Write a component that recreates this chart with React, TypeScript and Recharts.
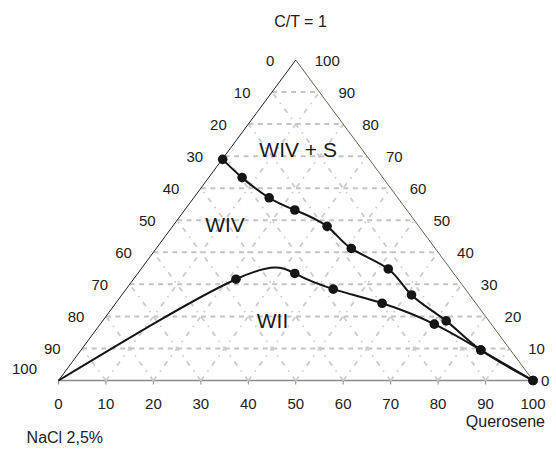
import React from 'react';
import { ScatterChart, Scatter, XAxis, YAxis } from 'recharts';

const FONT = '"Liberation Sans", Arial, Helvetica, sans-serif';

// Bottom axis ticks and side scale labels
const baseTicks = [0, 10, 20, 30, 40, 50, 60, 70, 80, 90, 100];
const sideTicks = [0, 10, 20, 30, 40, 50, 60, 70, 80, 90, 100];
const gridLevels = [10, 20, 30, 40, 50, 60, 70, 80, 90];

// Upper boundary (WIV / WIV + S) – x along base, y = height (0..100)
const upperX = [34.6, 38.7, 44.4, 49.8, 56.6, 61.7, 69.5, 74.4, 81.7, 89.0, 100];
const upperY = [69.0, 63.3, 57.0, 53.2, 48.1, 41.2, 34.8, 26.7, 18.6, 9.5, 0];

// Lower boundary (WIV / WII)
const lowerX = [0, 37.4, 49.8, 57.9, 68.2, 79.2, 89.0, 100];
const lowerY = [0, 31.6, 33.4, 28.5, 24.1, 17.6, 9.5, 0];
const lowerMarked = [false, true, true, true, true, true, true, true];

// Region labels
const regionNames = ['WIV + S', 'WIV', 'WII'];
const regionX = [50.5, 35.1, 45.1];
const regionY = [72.0, 48.8, 18.6];

type P = { x: number; y: number };

const upperData: P[] = upperX.map((x, i) => ({ x, y: upperY[i] }));
const lowerData: P[] = lowerX.map((x, i) => ({ x, y: lowerY[i] }));
const lowerDots: P[] = lowerData.filter((_, i) => lowerMarked[i]);

const horizontalLines: P[][] = gridLevels.map((k) => [
  { x: k / 2, y: k },
  { x: 100 - k / 2, y: k },
]);
const leftParallel: P[][] = gridLevels.map((k) => [
  { x: k, y: 0 },
  { x: k + (100 - k) / 2, y: 100 - k },
]);
const rightParallel: P[][] = gridLevels.map((k) => [
  { x: k, y: 0 },
  { x: k / 2, y: k },
]);
const leftSide: P[] = [
  { x: 0, y: 0 },
  { x: 50, y: 100 },
];
const rightSide: P[] = [
  { x: 50, y: 100 },
  { x: 100, y: 0 },
];

const leftLabelData = sideTicks.map((v) => ({ x: (100 - v) / 2, y: 100 - v, text: String(v) }));
const rightLabelData = sideTicks.map((v) => ({ x: 100 - v / 2, y: v, text: String(v) }));
const regionData = regionNames.map((t, i) => ({ x: regionX[i], y: regionY[i], text: t }));

const Empty = () => <g />;

const Dot = (props: any) => {
  const { cx, cy } = props;
  if (cx == null || cy == null) return <g />;
  return <circle cx={cx} cy={cy} r={4.8} fill="#151515" />;
};

const LeftLabel = (props: any) => {
  const { cx, cy, payload } = props;
  const shiftUp = payload.text === '100' ? 12.5 : 0;
  return (
    <text
      x={cx - 21.5}
      y={cy - shiftUp}
      textAnchor="end"
      dominantBaseline="central"
      fontSize={15}
      fontFamily={FONT}
      fill="#222"
    >
      {payload.text}
    </text>
  );
};

const RightLabel = (props: any) => {
  const { cx, cy, payload } = props;
  const off = payload.text === '0' ? 8 : 19;
  return (
    <text
      x={cx + off}
      y={cy}
      textAnchor="start"
      dominantBaseline="central"
      fontSize={15}
      fontFamily={FONT}
      fill="#222"
    >
      {payload.text}
    </text>
  );
};

const RegionLabel = (props: any) => {
  const { cx, cy, payload } = props;
  return (
    <text
      x={cx}
      y={cy}
      textAnchor="middle"
      dominantBaseline="central"
      fontSize={21}
      fontFamily={FONT}
      fill="#1a1a1a"
    >
      {payload.text}
    </text>
  );
};

const GRID = '#c4c4c4';
const GRID_DIAG = '#cccccc';

export default function App() {
  return (
    <div style={{ position: 'absolute', left: 0, top: 0, width: 556, height: 450, background: '#fff' }}>
      <ScatterChart
        width={556}
        height={450}
        margin={{ top: 60, right: 23, left: 58.5, bottom: 29.5 }}
      >
        <XAxis
          type="number"
          dataKey="x"
          domain={[0, 100]}
          ticks={baseTicks}
          interval={0}
          height={40}
          axisLine={{ stroke: '#8a8a8a', strokeWidth: 1.5 }}
          tickLine={{ stroke: '#8a8a8a' }}
          tickSize={4}
          tickMargin={14}
          tick={{ fontSize: 15, fill: '#222', fontFamily: FONT }}
        />
        <YAxis type="number" dataKey="y" domain={[0, 100]} hide width={0} />

        {horizontalLines.map((seg, i) => (
          <Scatter
            key={'h' + i}
            data={seg}
            fill={GRID}
            line={{ stroke: GRID, strokeWidth: 2, strokeDasharray: '5 4.5' }}
            shape={Empty}
            isAnimationActive={false}
          />
        ))}
        {leftParallel.map((seg, i) => (
          <Scatter
            key={'l' + i}
            data={seg}
            fill={GRID_DIAG}
            line={{ stroke: GRID_DIAG, strokeWidth: 1.8, strokeDasharray: '5 6 1.5 6' }}
            shape={Empty}
            isAnimationActive={false}
          />
        ))}
        {rightParallel.map((seg, i) => (
          <Scatter
            key={'r' + i}
            data={seg}
            fill={GRID_DIAG}
            line={{ stroke: GRID_DIAG, strokeWidth: 1.8, strokeDasharray: '5 6 1.5 6' }}
            shape={Empty}
            isAnimationActive={false}
          />
        ))}

        <Scatter
          data={leftSide}
          fill="#222"
          line={{ stroke: '#222', strokeWidth: 1 }}
          shape={Empty}
          isAnimationActive={false}
        />
        <Scatter
          data={rightSide}
          fill="#666650"
          line={{ stroke: '#666650', strokeWidth: 1 }}
          shape={Empty}
          isAnimationActive={false}
        />

        <Scatter
          data={lowerData}
          fill="#151515"
          line={{ stroke: '#151515', strokeWidth: 2 }}
          lineJointType="natural"
          shape={Empty}
          isAnimationActive={false}
        />
        <Scatter data={lowerDots} fill="#151515" shape={Dot} isAnimationActive={false} />

        <Scatter
          data={upperData}
          fill="#151515"
          line={{ stroke: '#151515', strokeWidth: 2 }}
          lineJointType="natural"
          shape={Dot}
          isAnimationActive={false}
        />

        <Scatter data={leftLabelData} fill="#222" shape={LeftLabel} isAnimationActive={false} />
        <Scatter data={rightLabelData} fill="#222" shape={RightLabel} isAnimationActive={false} />
        <Scatter data={regionData} fill="#222" shape={RegionLabel} isAnimationActive={false} />
      </ScatterChart>

      <svg
        width={556}
        height={450}
        style={{ position: 'absolute', left: 0, top: 0, pointerEvents: 'none' }}
      >
        <text x={300.5} y={21} textAnchor="middle" dominantBaseline="central" fontSize={16} fontFamily={FONT} fill="#222">
          C/T = 1
        </text>
        <text x={545} y={421.5} textAnchor="end" dominantBaseline="central" fontSize={16} fontFamily={FONT} fill="#222">
          Querosene
        </text>
        <text x={26.6} y={437.5} textAnchor="start" dominantBaseline="central" fontSize={16} fontFamily={FONT} fill="#222">
          NaCl 2,5%
        </text>
      </svg>
    </div>
  );
}
